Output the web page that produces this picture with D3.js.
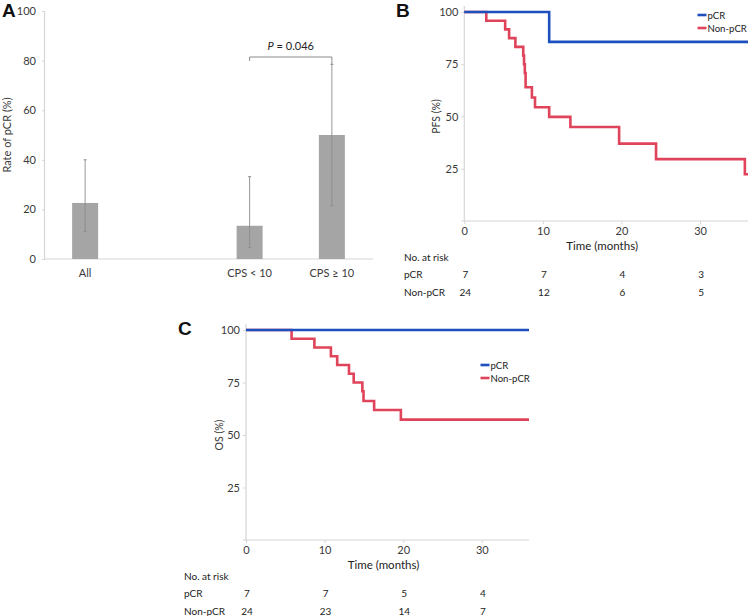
<!DOCTYPE html>
<html><head><meta charset="utf-8">
<script src="https://cdn.jsdelivr.net/npm/d3@7"></script>
<style>
body{margin:0;background:#fff;}
svg{display:block;font-family:Lato,"Open Sans",sans-serif;}
</style></head>
<body><svg id="c" width="750" height="616"></svg>
<script>
// ---------- Data ----------
// Panel A: rate of pCR
const barCategories = ["All", " ", "CPS < 10", "CPS \u2265 10"];
const barValues = [22.6, null, 13.4, 50.0];
const barLower = [11.1, null, 4.6, 21.5];
const barUpper = [40.0, null, 33.2, 78.5];
const barTicks = [0, 20, 40, 60, 80, 100];
const pLabel = "0.046";

// Panel B: PFS (Kaplan-Meier step points)
const pfsPcrTime = [0, 10.8, 36.1];
const pfsPcrSurv = [100, 85.7, 85.7];
const pfsNonTime = [0, 2.8, 5.2, 5.7, 6.5, 7.5, 7.6, 7.7, 7.8, 8.6, 9.0, 10.8, 13.5, 19.7, 24.4, 35.7, 36.1];
const pfsNonSurv = [100, 95.8, 91.7, 87.5, 83.3, 79.2, 75.0, 70.8, 64.0, 59.1, 54.4, 49.8, 45.0, 37.0, 29.6, 22.4, 22.4];
const pfsRiskTimes = [0, 10, 20, 30];
const pfsRiskPcr = [7, 7, 4, 3];
const pfsRiskNon = [24, 12, 6, 5];

// Panel C: OS
const osPcrTime = [0, 36];
const osPcrSurv = [100, 100];
const osNonTime = [0, 5.8, 8.7, 10.8, 11.6, 13.1, 13.7, 14.8, 14.95, 16.3, 19.7, 36];
const osNonSurv = [100, 95.8, 91.7, 87.5, 83.3, 79.2, 75.0, 70.8, 66.2, 61.9, 57.3, 57.3];
const osRiskTimes = [0, 10, 20, 30];
const osRiskPcr = [7, 7, 5, 4];
const osRiskNon = [24, 23, 14, 7];

const kmYTicks = [25, 50, 75, 100];
const kmXTicks = [0, 10, 20, 30];
const seriesNames = ["pCR", "Non-pCR"];

// ---------- Styles ----------
const BLUE = "#1d4fbf", RED = "#e0445a", AX = "#d6d6d6", TXT = "#3a3a3a";
const svg = d3.select("#c");

function styleAxis(g) {
  g.selectAll(".domain").attr("stroke", AX).attr("stroke-width", 1.2);
  g.selectAll(".tick line").attr("stroke", AX);
  g.selectAll(".tick text").attr("fill", TXT).attr("font-size", 11).attr("font-family", "Lato, sans-serif");
}

// ---------- Panel A ----------
(function () {
  const y = d3.scaleLinear().domain([0, 100]).range([259, 11]);
  const x = d3.scalePoint().domain(barCategories).range([44, 373]).padding(0.5);
  const bw = 26;
  const g = svg.append("g");
  const ya = g.append("g").attr("transform", "translate(44,0)")
    .call(d3.axisLeft(y).tickValues(barTicks).tickSize(2).tickPadding(6));
  styleAxis(ya);
  g.append("line").attr("x1", 44).attr("x2", 373).attr("y1", y(0)).attr("y2", y(0))
    .attr("stroke", AX).attr("stroke-width", 1.2);
  const data = barCategories.map((c, i) => ({c, v: barValues[i], lo: barLower[i], hi: barUpper[i]}));
  const real = data.filter(d => d.v !== null);
  g.selectAll("rect.bar").data(real).enter().append("rect")
    .attr("x", d => x(d.c) - bw / 2).attr("width", bw)
    .attr("y", d => y(d.v)).attr("height", d => y(0) - y(d.v))
    .attr("fill", "#a5a5a5");
  g.selectAll("line.err").data(real).enter().append("line")
    .attr("x1", d => x(d.c)).attr("x2", d => x(d.c))
    .attr("y1", d => y(d.lo)).attr("y2", d => y(d.hi))
    .attr("stroke", "#8c8c8c").attr("stroke-width", 1).attr("opacity", 0.9);
  ["lo", "hi"].forEach(k => {
    g.selectAll("line.cap" + k).data(real).enter().append("line")
      .attr("x1", d => x(d.c) - 1.5).attr("x2", d => x(d.c) + 1.5)
      .attr("y1", d => y(d[k])).attr("y2", d => y(d[k]))
      .attr("stroke", "#8c8c8c").attr("stroke-width", 1);
  });
  g.selectAll("text.cat").data(real).enter().append("text")
    .attr("x", d => x(d.c)).attr("y", 277).attr("text-anchor", "middle")
    .attr("font-size", 11).attr("fill", TXT).text(d => d.c);
  const x1 = x(barCategories[2]), x2 = x(barCategories[3]), by = 57;
  g.append("path")
    .attr("d", `M${x1},${by + 4}V${by}H${x2}V${y(barUpper[3])}`)
    .attr("fill", "none").attr("stroke", "#8c8c8c").attr("stroke-width", 1);
  const pt = g.append("text").attr("x", (x1 + x2) / 2).attr("y", 50).attr("text-anchor", "middle")
    .attr("font-size", 11).attr("fill", "#222");
  pt.append("tspan").attr("font-style", "italic").text("P");
  pt.append("tspan").text(" = " + pLabel);
  g.append("text").attr("transform", "translate(11,135) rotate(-90)").attr("text-anchor", "middle")
    .attr("font-size", 11).attr("fill", TXT).text("Rate of pCR (%)");
  g.append("text").attr("x", 2).attr("y", 17).attr("font-family", "Liberation Sans, Arial, sans-serif")
    .attr("font-weight", "bold").attr("font-size", 19).attr("fill", "#111").text("A");
})();

// ---------- KM panel builder ----------
function kmPanel(opt) {
  const x = d3.scaleLinear().domain([0, opt.xMax]).range([opt.x0, opt.x1]);
  const y = d3.scaleLinear().domain([0, 100]).range([opt.y0, opt.y1]);
  const g = svg.append("g");
  const xa = g.append("g").attr("transform", `translate(0,${opt.y0})`)
    .call(d3.axisBottom(x).tickValues(kmXTicks).tickSize(3).tickPadding(3).tickSizeOuter(0));
  styleAxis(xa);
  xa.select(".domain").attr("d", `M${opt.x0 - 3},0H${opt.x1}`);
  const ya = g.append("g").attr("transform", `translate(${opt.x0},0)`)
    .call(d3.axisLeft(y).tickValues(kmYTicks).tickSize(3).tickPadding(3).tickSizeOuter(0));
  styleAxis(ya);
  ya.select(".domain").attr("d", `M0,${opt.y0}V${opt.y1 - 6}`);
  const line = d3.line().x(d => x(d[0])).y(d => y(d[1])).curve(d3.curveStepAfter);
  const series = [
    {t: opt.nonT, s: opt.nonS, c: RED},
    {t: opt.pcrT, s: opt.pcrS, c: BLUE}
  ];
  series.forEach(se => {
    g.append("path").datum(se.t.map((t, i) => [t, se.s[i]])).attr("d", line)
      .attr("fill", "none").attr("stroke", se.c).attr("stroke-width", 2.6);
  });
  [[seriesNames[0], BLUE], [seriesNames[1], RED]].forEach(([n, c], i) => {
    const ly = opt.legY + i * 13;
    g.append("line").attr("x1", opt.legX).attr("x2", opt.legX + 9).attr("y1", ly).attr("y2", ly)
      .attr("stroke", c).attr("stroke-width", 2.6);
    g.append("text").attr("x", opt.legX + 10).attr("y", ly + 3.5).attr("font-size", 9.6)
      .attr("fill", "#222").text(n);
  });
  g.append("text").attr("x", (opt.x0 + opt.x1) / 2 - 4).attr("y", opt.y0 + 29).attr("text-anchor", "middle")
    .attr("font-size", 11.5).attr("fill", "#222").text("Time (months)");
  g.append("text").attr("transform", `translate(${opt.yLabX},${(opt.y0 + opt.y1) / 2}) rotate(-90)`)
    .attr("text-anchor", "middle").attr("font-size", 10.5).attr("fill", TXT).text(opt.yLabel);
  const rows = [["No. at risk", null, opt.ry], ["pCR", opt.riskPcr, opt.ry + 17], ["Non-pCR", opt.riskNon, opt.ry + 34.5]];
  rows.forEach(([lab, vals, ry]) => {
    g.append("text").attr("x", opt.tabX).attr("y", ry + 4).attr("font-size", 10).attr("fill", "#222").text(lab);
    if (vals) {
      g.selectAll(null).data(vals).enter().append("text")
        .attr("x", (d, i) => x(opt.riskT[i]) + 1).attr("y", ry + 4).attr("text-anchor", "middle")
        .attr("font-size", 10).attr("fill", "#222").text(d => d);
    }
  });
  g.append("text").attr("x", opt.letX).attr("y", opt.letY).attr("font-family", "Liberation Sans, Arial, sans-serif")
    .attr("font-weight", "bold").attr("font-size", 19).attr("fill", "#111").text(opt.letter);
}

kmPanel({
  xMax: 36.1, x0: 464.3, x1: 748, y0: 221, y1: 12,
  pcrT: pfsPcrTime, pcrS: pfsPcrSurv, nonT: pfsNonTime, nonS: pfsNonSurv,
  riskT: pfsRiskTimes, riskPcr: pfsRiskPcr, riskNon: pfsRiskNon,
  legX: 697.5, legY: 15, yLabX: 440, yLabel: "PFS (%)",
  tabX: 404, ry: 257, letter: "B", letX: 396, letY: 17
});
kmPanel({
  xMax: 36, x0: 246, x1: 529, y0: 540, y1: 330,
  pcrT: osPcrTime, pcrS: osPcrSurv, nonT: osNonTime, nonS: osNonSurv,
  riskT: osRiskTimes, riskPcr: osRiskPcr, riskNon: osRiskNon,
  legX: 480.5, legY: 365, yLabX: 223, yLabel: "OS (%)",
  tabX: 184, ry: 576, letter: "C", letX: 178, letY: 335
});
</script></body></html>
